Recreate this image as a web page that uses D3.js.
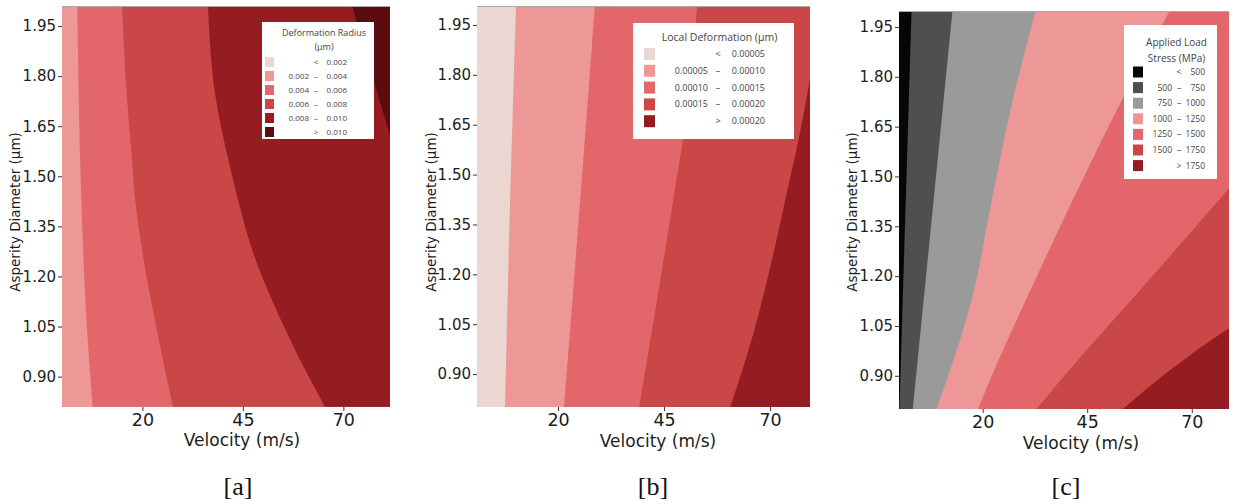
<!DOCTYPE html>
<html>
<head>
<meta charset="utf-8">
<script src="https://cdn.jsdelivr.net/npm/d3@7"></script>
<style>
  html, body { margin: 0; padding: 0; background: #fff; }
  svg { display: block; }
</style>
</head>
<body>
<div id="graph"></div>
<script>
document.addEventListener("DOMContentLoaded", function() {

  // shared tick values
  const velTicks = [20, 45, 70];
  const diaTicks = [0.90, 1.05, 1.20, 1.35, 1.50, 1.65, 1.80, 1.95];

  // band colours, lightest to darkest (plus greys for panel c)
  const reds = ["#ecd6d1", "#ed9896", "#e3676a", "#c94747", "#951c20", "#5c0b10"];
  const greys = ["#060606", "#4f4f4f", "#9a9a9a"];

  // [a] deformation radius
  const radiusTitle = ["Deformation Radius", "(\u00b5m)"];
  const radiusLegend = [
    ["", "<", "0.002"], ["0.002", "\u2013", "0.004"], ["0.004", "\u2013", "0.006"],
    ["0.006", "\u2013", "0.008"], ["0.008", "\u2013", "0.010"], ["", ">", "0.010"]
  ];
  // contour lines as [velocity, diameter]
  const radiusContours = [
    [[3.8, 2.01], [4.8, 1.43], [5.8, 1.13], [7.6, 0.81]],
    [[14.9, 2.01], [16.2, 1.73], [17.2, 1.58], [18.2, 1.43], [19.9, 1.28], [22.1, 1.13], [24.6, 0.98], [27.6, 0.81]],
    [[36.3, 2.01], [38.3, 1.73], [40.8, 1.58], [43.8, 1.43], [47.3, 1.28], [52.2, 1.13], [58.0, 0.98], [65.4, 0.81]],
    [[72.2, 2.01], [76.7, 1.82], [81.7, 1.62], [83.2, 1.56]]
  ];

  // [b] local deformation
  const localTitle = ["Local Deformation (\u00b5m)"];
  const localLegend = [
    ["", "<", "0.00005"], ["0.00005", "\u2013", "0.00010"], ["0.00010", "\u2013", "0.00015"],
    ["0.00015", "\u2013", "0.00020"], ["", ">", "0.00020"]
  ];
  const localContours = [
    [[10.1, 2.01], [8.7, 1.42], [7.5, 0.80]],
    [[28.7, 2.01], [25.2, 1.42], [21.4, 0.80]],
    [[52.8, 2.01], [50.7, 1.72], [47.1, 1.42], [43.3, 1.12], [39.1, 0.80]],
    [[80.6, 1.90], [79.4, 1.79], [77.1, 1.63], [73.5, 1.42], [70.0, 1.22], [66.0, 1.02], [60.6, 0.80]]
  ];

  // [c] applied load stress
  const stressTitle = ["Applied Load", "Stress (MPa)"];
  const stressLegend = [
    ["", "<", "500"], ["500", "\u2013", "750"], ["750", "\u2013", "1000"], ["1000", "\u2013", "1250"],
    ["1250", "\u2013", "1500"], ["1500", "\u2013", "1750"], ["", ">", "1750"]
  ];
  const stressContours = [
    [[3.0, 2.0], [0.1, 0.80]],
    [[12.8, 2.0], [3.3, 0.80]],
    [[32.7, 2.0], [27.2, 1.73], [22.2, 1.43], [17.4, 1.13], [9.0, 0.80]],
    [[64.8, 2.0], [53.3, 1.73], [45.4, 1.53], [37.8, 1.33], [30.4, 1.13], [23.2, 0.93], [18.9, 0.80]],
    [[32.9, 0.80], [41.6, 0.93], [55.7, 1.13], [69.6, 1.33], [78.6, 1.46], [83.9, 1.54]],
    [[53.5, 0.80], [66.2, 0.93], [78.6, 1.04], [83.9, 1.08]]
  ];

  const panels = [
    { id: "a", l: 62, r: 390, t: 6, b: 407, xDom: [0, 81.6], yDom: [0.809, 2.01],
      palette: reds, base: 1, contours: radiusContours,
      legend: { rows: radiusLegend, title: radiusTitle, colors: reds,
        x: 262, y: 22, w: 112, h: 117, titleY: 36, lineH: 14, rowY: 62, rowH: 14,
        sw: 9, swX: 265, loX: 309, midX: 316, hiX: 347, fs: 8, tfs: 9 },
      yTitleX: 20, xTitleX: 242, xTitleY: 446, capX: 238 },
    { id: "b", l: 477, r: 810, t: 6, b: 407, xDom: [0.9, 79.4], yDom: [0.801, 2.007],
      palette: reds, base: 0, contours: localContours,
      legend: { rows: localLegend, title: localTitle, colors: reds,
        x: 633, y: 23, w: 161, h: 116, titleY: 41, lineH: 14, rowY: 54, rowH: 16.8,
        sw: 11, swX: 644, loX: 708, midX: 718, hiX: 765, fs: 9, tfs: 10.5 },
      yTitleX: 436, xTitleX: 658, xTitleY: 447, capX: 653 },
    { id: "c", l: 899, r: 1229, t: 11, b: 409, xDom: [0, 78.9], yDom: [0.80, 1.998],
      palette: greys.concat(reds.slice(1, 5)), base: 0, contours: stressContours,
      legend: { rows: stressLegend, title: stressTitle, colors: greys.concat(reds.slice(1, 5)),
        x: 1124, y: 25, w: 93, h: 154, titleY: 46, lineH: 16, rowY: 72, rowH: 15.6,
        sw: 10, swX: 1133, loX: 1172, midX: 1179, hiX: 1205, fs: 8.5, tfs: 10 },
      yTitleX: 857, xTitleX: 1081, xTitleY: 449, capX: 1066 }
  ];

  const svg = d3.select("#graph").append("svg")
    .attr("width", 1236)
    .attr("height", 504);

  const axisFont = "'DejaVu Sans', sans-serif";
  const legendFont = "'Open Sans', 'Noto Sans', sans-serif";

  panels.forEach(p => {
    const x = d3.scaleLinear().domain(p.xDom).range([p.l, p.r]);
    const y = d3.scaleLinear().domain(p.yDom).range([p.b, p.t]);
    const g = svg.append("g");

    g.append("clipPath").attr("id", "clip-" + p.id)
      .append("rect")
      .attr("x", p.l).attr("y", p.t)
      .attr("width", p.r - p.l).attr("height", p.b - p.t);

    const plot = g.append("g").attr("clip-path", `url(#clip-${p.id})`);

    // lowest band fills the whole plot, then each contour paints its right side
    plot.append("rect")
      .attr("x", p.l).attr("y", p.t)
      .attr("width", p.r - p.l).attr("height", p.b - p.t)
      .attr("fill", p.palette[p.base]);

    const line = d3.line()
      .x(d => x(d[0]))
      .y(d => y(d[1]))
      .curve(d3.curveMonotoneY);

    p.contours.forEach((pts, i) => {
      const first = pts[0], last = pts[pts.length - 1];
      const far = p.r + 300;
      plot.append("path")
        .attr("d", line(pts) + `L${far},${y(last[1])}L${far},${y(first[1])}Z`)
        .attr("fill", p.palette[p.base + i + 1]);
    });

    // thin frame on top like the source
    g.append("line")
      .attr("x1", p.l).attr("x2", p.r)
      .attr("y1", p.t + 0.5).attr("y2", p.t + 0.5)
      .attr("stroke", "#aaa").attr("stroke-width", 1);

    // axes
    const yAxis = g.append("g")
      .attr("transform", `translate(${p.l},0)`)
      .call(d3.axisLeft(y).tickValues(diaTicks).tickFormat(d3.format(".2f")).tickSize(4).tickPadding(2));
    const xAxis = g.append("g")
      .attr("transform", `translate(0,${p.b})`)
      .call(d3.axisBottom(x).tickValues(velTicks).tickSize(4).tickPadding(3));

    [yAxis, xAxis].forEach(ax => {
      ax.select(".domain").remove();
      ax.selectAll(".tick line").attr("stroke", "#333");
      ax.selectAll("text").attr("fill", "#1c1c1c").style("font-family", axisFont);
    });
    yAxis.selectAll("text").style("font-size", "15px");
    xAxis.selectAll("text").style("font-size", "17.5px");

    g.append("text")
      .attr("x", p.xTitleX).attr("y", p.xTitleY)
      .attr("text-anchor", "middle")
      .style("font-family", axisFont).style("font-size", "17px").attr("fill", "#1c1c1c")
      .text("Velocity (m/s)");

    g.append("text")
      .attr("transform", `translate(${p.yTitleX},212) rotate(-90)`)
      .attr("text-anchor", "middle")
      .style("font-family", axisFont).style("font-size", "13.5px").attr("fill", "#1c1c1c")
      .text("Asperity Diameter (\u00b5m)");

    // caption
    g.append("text")
      .attr("x", p.capX).attr("y", 495)
      .attr("text-anchor", "middle")
      .style("font-family", "'Liberation Serif', 'Times New Roman', serif")
      .style("font-size", "26px").attr("fill", "#111")
      .text(`[${p.id}]`);

    // legend
    const L = p.legend;
    const lg = g.append("g");
    lg.append("rect")
      .attr("x", L.x).attr("y", L.y).attr("width", L.w).attr("height", L.h)
      .attr("fill", "#fff");

    const cx = L.x + L.w / 2 + 6;
    L.title.forEach((t, i) => {
      lg.append("text")
        .attr("x", cx).attr("y", L.titleY + i * L.lineH)
        .attr("text-anchor", "middle")
        .style("font-family", legendFont).style("font-size", L.tfs + "px")
        .attr("fill", "#444")
        .text(t);
    });

    const rows = lg.selectAll("g.row").data(L.rows).join("g")
      .attr("class", "row")
      .attr("transform", (d, i) => `translate(0,${L.rowY + i * L.rowH})`);

    rows.append("rect")
      .attr("x", L.swX).attr("y", -L.sw / 2 - 0.5)
      .attr("width", L.sw).attr("height", L.sw + 1)
      .attr("fill", (d, i) => L.colors[i]);

    const rowText = (sel, anchor, xPos, idx) => sel.append("text")
      .attr("x", xPos).attr("y", 3)
      .attr("text-anchor", anchor)
      .style("font-family", legendFont).style("font-size", L.fs + "px")
      .attr("fill", "#444")
      .text(d => d[idx]);

    rowText(rows, "end", L.loX, 0);
    rowText(rows, "middle", L.midX, 1);
    rowText(rows, "end", L.hiX, 2);
  });

});
</script>
</body>
</html>
